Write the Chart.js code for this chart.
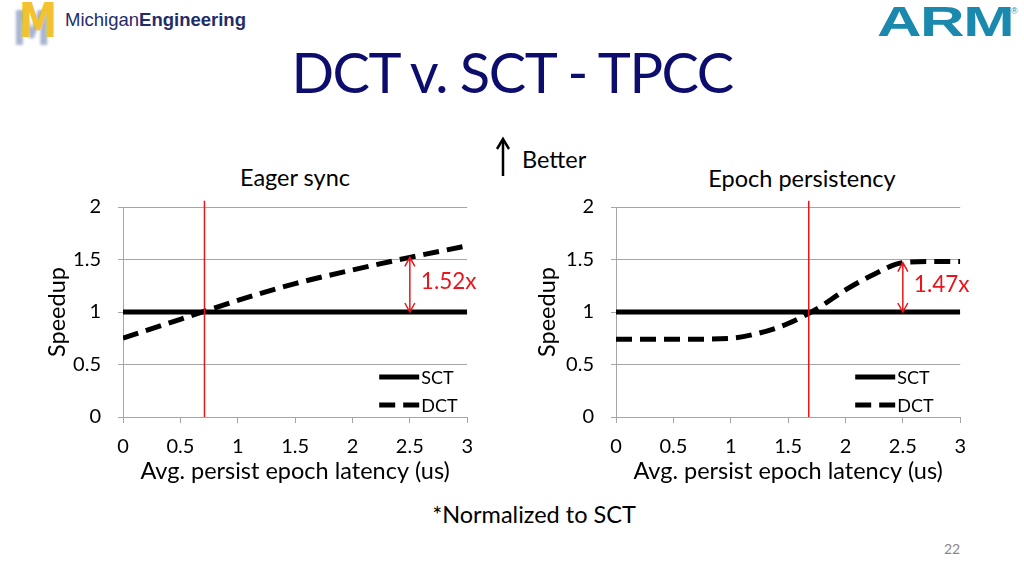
<!DOCTYPE html>
<html>
<head>
<meta charset="utf-8">
<script src="https://cdn.jsdelivr.net/npm/chart.js@4.4.1/dist/chart.umd.min.js"></script>
<style>
body { margin: 0; background: #fff; }
#slide { position: relative; width: 1024px; height: 576px; overflow: hidden; font-family: Lato, "Open Sans", sans-serif; color: #000; }
.t { position: absolute; white-space: nowrap; }
canvas { position: absolute; }
</style>
</head>
<body>
<div id="slide">
  <!-- logos -->
  <div class="t" style="left:19px;top:-5px;font:bold 48px 'DejaVu Sans';color:#f2c230;text-shadow:-8px 8px 3px #aab5d0;line-height:50px;transform:scaleX(0.8);transform-origin:left top;">M</div>
  <div class="t" style="left:65px;top:9px;font:18.5px 'Liberation Sans';color:#1f2d6b;line-height:22px;">Michigan<b>Engineering</b></div>
  <div class="t" style="left:877px;top:0px;font:bold 42px 'Liberation Sans';color:#1b89ad;line-height:44px;transform:scaleX(1.47);transform-origin:left top;letter-spacing:-1px;">ARM</div>
  <div class="t" style="left:1011px;top:6px;font:9px 'Liberation Sans';color:#1b89ad;">®</div>

  <div class="t" style="left:212px;width:600px;top:37px;text-align:center;font-size:56px;letter-spacing:-1.5px;line-height:70px;color:#0d0d6e;">DCT v. SCT - TPCC</div>

  <svg style="position:absolute;left:494px;top:136px" width="20" height="44">
    <line x1="9" y1="4" x2="9" y2="40" stroke="#000" stroke-width="2.5"/>
    <polyline points="3,13 9,3 15,13" fill="none" stroke="#000" stroke-width="2.5"/>
  </svg>
  <div class="t" style="left:522px;top:145px;font-size:23.5px;line-height:28px;">Better</div>

  <div class="t" style="left:145px;width:300px;top:163px;text-align:center;font-size:23.5px;line-height:28px;">Eager sync</div>
  <div class="t" style="left:652px;width:300px;top:164px;text-align:center;font-size:23.5px;line-height:28px;">Epoch persistency</div>

  <canvas id="eager" width="445" height="330" style="left:40px;top:160px"></canvas>
  <canvas id="epoch" width="445" height="330" style="left:533px;top:160px"></canvas>

  <div class="t" style="left:334px;width:400px;top:500px;text-align:center;font-size:23.5px;line-height:28px;">*Normalized to SCT</div>
  <div class="t" style="left:922px;width:60px;top:540px;text-align:center;font-size:14px;line-height:18px;color:#888;">22</div>
</div>
<script>
// Eager sync panel
const eagerLatency = [0, 0.5, 1, 1.5, 2, 2.5, 3];
const eagerSCT = [1, 1, 1, 1, 1, 1, 1];
const eagerDCT = [0.75, 0.93, 1.11, 1.27, 1.40, 1.52, 1.63];
const eagerCross = 0.71;
const eagerGain = 1.52;

// Epoch persistency panel
const epochLatency = [0, 0.5, 1, 1.25, 1.5, 1.75, 2, 2.25, 2.5, 2.75, 3];
const epochSCT = [1, 1, 1, 1, 1, 1, 1, 1, 1, 1, 1];
const epochDCT = [0.74, 0.74, 0.75, 0.80, 0.89, 1.03, 1.21, 1.36, 1.47, 1.48, 1.48];
const epochCross = 1.68;
const epochGain = 1.47;

const gainAt = 2.5;
const seriesNames = ["SCT", "DCT"];

const RED = "#e8151b";
const GRID = "#a6a6a6";
const FONT = "Lato, 'Open Sans', sans-serif";

const annotate = {
  id: "annotate",
  afterDatasetsDraw(chart, args, opts) {
    const ctx = chart.ctx;
    const x = chart.scales.x, y = chart.scales.y, area = chart.chartArea;
    const ax = x.getPixelForValue(opts.gainX);
    const y0 = y.getPixelForValue(1), y1 = y.getPixelForValue(opts.gain);
    ctx.save();
    ctx.strokeStyle = RED;
    ctx.lineWidth = 1.5;
    ctx.beginPath();
    ctx.moveTo(ax, y0); ctx.lineTo(ax, y1);
    ctx.moveTo(ax - 5, y1 + 9); ctx.lineTo(ax, y1); ctx.lineTo(ax + 5, y1 + 9);
    ctx.moveTo(ax - 5, y0 - 9); ctx.lineTo(ax, y0); ctx.lineTo(ax + 5, y0 - 9);
    ctx.stroke();
    ctx.fillStyle = RED;
    ctx.font = "22.5px " + FONT;
    ctx.textBaseline = "middle";
    ctx.fillText(opts.gain.toFixed(2) + "x", ax + 11, (y0 + y1) / 2 - 3);

    // legend inside plot, bottom right
    ctx.fillStyle = "#000";
    ctx.font = "18px " + FONT;
    ctx.strokeStyle = "#000";
    ctx.lineWidth = 5;
    const lx = area.right - opts.legendRight;
    [0, 1].forEach(i => {
      const ds = chart.data.datasets[i];
      const ly = area.bottom - (i === 0 ? 40 : 12);
      ctx.setLineDash(ds.borderDash || []);
      ctx.beginPath();
      ctx.moveTo(lx, ly); ctx.lineTo(lx + 40, ly);
      ctx.stroke();
      ctx.fillText(ds.label, lx + 42, ly + 1);
    });
    ctx.restore();
  }
};

function makeChart(id, xs, sct, dct, cross, gain, legendRight, titlePad) {
  const pts = (arr) => xs.map((v, i) => ({ x: v, y: arr[i] }));
  return new Chart(document.getElementById(id), {
    type: "line",
    data: {
      datasets: [
        { label: seriesNames[0], data: pts(sct), borderColor: "#000", borderWidth: 5, pointRadius: 0, order: 2 },
        { label: seriesNames[1], data: pts(dct), borderColor: "#000", borderWidth: 5, borderDash: [16, 8],
          cubicInterpolationMode: "monotone", pointRadius: 0, order: 1 },
        { label: "crossover", data: [{ x: cross, y: 0 }, { x: cross, y: 2.06 }], borderColor: RED, borderWidth: 1.5,
          pointRadius: 0, clip: false, order: 0 }
      ]
    },
    options: {
      responsive: false,
      animation: false,
      layout: { padding: { top: 47, right: 9, left: 0, bottom: 0 } },
      plugins: {
        legend: { display: false },
        tooltip: { enabled: false },
        annotate: { gainX: gainAt, gain: gain, legendRight: legendRight }
      },
      scales: {
        x: {
          type: "linear", min: 0, max: 3,
          afterFit: (s) => { s.height = 73; },
          ticks: { stepSize: 0.5, color: "#000", font: { family: FONT, size: 20 }, padding: 12, maxRotation: 0,
                   callback: (v) => String(v) },
          grid: { drawOnChartArea: false, tickLength: 6, color: GRID },
          border: { color: GRID },
          title: { display: true, text: "Avg. persist epoch latency (us)", color: "#000",
                   font: { family: FONT, size: 23.5 }, padding: { top: 0, bottom: 4 } }
        },
        y: {
          min: 0, max: 2,
          afterFit: (s) => { s.width = 83; },
          ticks: { stepSize: 0.5, color: "#000", font: { family: FONT, size: 20 }, padding: 17,
                   callback: (v) => String(v) },
          grid: { tickLength: 5, color: GRID },
          border: { color: GRID },
          title: { display: true, text: "Speedup", color: "#000",
                   font: { family: FONT, size: 23.5 }, padding: { top: titlePad, bottom: 0 } }
        }
      }
    },
    plugins: [annotate]
  });
}

makeChart("eager", eagerLatency, eagerSCT, eagerDCT, eagerCross, eagerGain, 88, 3);
makeChart("epoch", epochLatency, epochSCT, epochDCT, epochCross, epochGain, 105, 0);
</script>
</body>
</html>
